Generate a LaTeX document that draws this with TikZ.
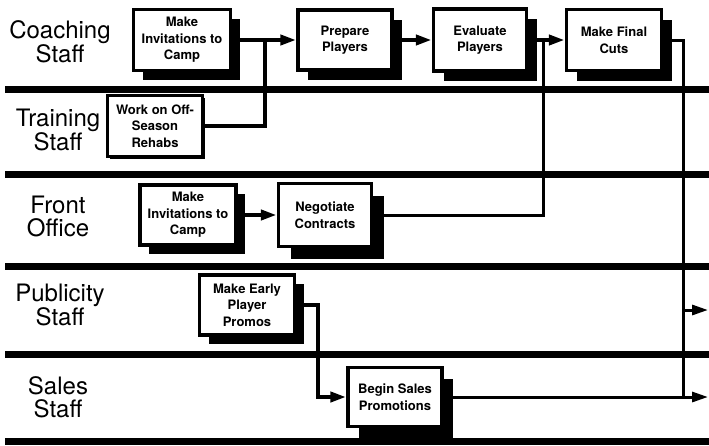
\documentclass[tikz,border=0pt]{standalone}
\usepackage{fontspec}
\setmainfont{TeX Gyre Heros}
\usetikzlibrary{arrows.meta,shadows}
\tikzset{
  lane/.style={line width=7pt},
  lanelabel/.style={align=center,font=\fontsize{24}{23}\selectfont,inner sep=0pt},
  task/.style={draw,line width=3.5pt,fill=white,align=center,inner sep=0pt,
    font=\bfseries\fontsize{13}{16.5}\selectfont,
    drop shadow={shadow xshift=#1pt,shadow yshift=-#1pt,fill=black,opacity=1}},
  task/.default=9,
  flow/.style={line width=4.5pt},
  thin flow/.style={line width=3pt},
  tip/.style={-{Triangle[length=16pt,width=10pt]}},
}
\begin{document}
\begin{tikzpicture}[x=1pt,y=-1pt]
\useasboundingbox (0,0) rectangle (709,445);
% swimlane dividers
\foreach \yy in {89,174,266,354,441}
  \draw[lane] (5,\yy) -- (709,\yy);

% lane titles
\node[lanelabel] (lcoach) at (60,42) {Coaching\\Staff};
\node[lanelabel] (ltrain) at (58,130) {Training\\Staff};
\node[lanelabel] (lfront) at (58,216) {Front\\Office};
\node[lanelabel] (lpub)   at (60,305) {Publicity\\Staff};
\node[lanelabel] (lsales) at (58,397) {Sales\\Staff};

% tasks
\node[task,minimum width=97pt,minimum height=61pt] (cinv) at (182,40) {Make\\Invitations to\\Camp};
\node[task=10,minimum width=94pt,minimum height=60pt] (prep) at (345,40) {Prepare\\Players};
\node[task=10,minimum width=93pt,minimum height=62pt] (eval) at (480,40) {Evaluate\\Players};
\node[task=10,minimum width=95pt,minimum height=61pt] (cuts) at (614,40) {Make Final\\Cuts};
\node[task=2,minimum width=95pt,minimum height=61pt] (rehab) at (155,126) {Work on Off-\\Season\\Rehabs};
\node[task,minimum width=96pt,minimum height=60pt] (finv) at (188,215) {Make\\Invitations to\\Camp};
\node[task=12,minimum width=93pt,minimum height=63pt] (nego) at (325,215) {Negotiate\\Contracts};
\node[task=9,minimum width=95pt,minimum height=60pt] (promo) at (247,305) {Make Early\\Player\\Promos};
\node[task=11,minimum width=94pt,minimum height=59pt] (sales) at (395,397) {Begin Sales\\Promotions};

% junction and corner points
\coordinate (j1) at (265,40);
\coordinate (j2) at (543,40);
\coordinate (j3) at (683,397);
\coordinate (j4) at (683,310);
\coordinate (out1) at (708,310);
\coordinate (out2) at (708,397);
\coordinate (b1) at (318,397);

% flows
\draw[flow,tip] (cinv.east) -- (prep.west);
\draw[flow] (rehab.east) -| (j1);
\draw[flow,tip] (prep.east) -- (eval.west);
\draw[flow,tip] (eval.east) -- (cuts.west);
\draw[thin flow] (nego.east) -| (j2);
\draw[flow,tip] (finv.east) -- (nego.west);
\draw[thin flow] (cuts.east) -| (j3);
\draw[thin flow,tip] (j4) -- (out1);
\draw[thin flow,tip] (sales.east) -- (out2);
\draw[flow,tip] (promo.east) -| (b1) -- (sales.west);
\end{tikzpicture}
\end{document}
